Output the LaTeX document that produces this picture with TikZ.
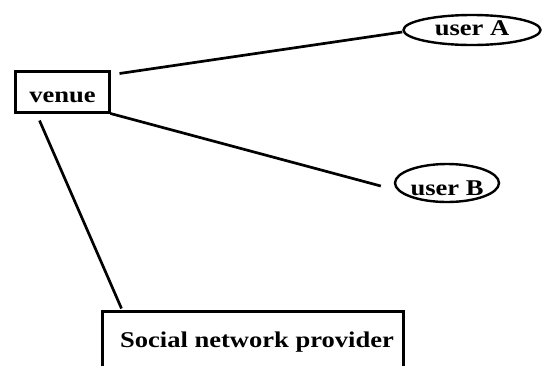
\documentclass[tikz,border=0pt]{standalone}
\usepackage{fontspec}
\setmainfont{Liberation Serif}[FakeStretch=1.18]
\usetikzlibrary{shapes.geometric,calc}
\begin{document}
\begin{tikzpicture}[x=1bp,y=-1bp,
  lbl/.style={font=\fontsize{22.5bp}{26bp}\selectfont\bfseries, text=black},
  boxnode/.style={draw, rectangle, line width=3bp, inner sep=0pt, lbl},
  usernode/.style={draw, ellipse, line width=2.4bp, inner sep=0pt, lbl},
  conn/.style={line width=2.7bp}]
\useasboundingbox (0,0) rectangle (543,365);
\node[boxnode, minimum width=93bp, minimum height=41bp] (venue) at (62.5,91.5) {\raisebox{-10.5bp}[0pt][0pt]{venue}};
\node[usernode, minimum width=137bp, minimum height=30bp] (userA) at (472,30) {\raisebox{-5bp}[0pt][0pt]{user A}};
\node[usernode, minimum width=104bp, minimum height=38bp] (userB) at (447,183) {\raisebox{-12bp}[0pt][0pt]{user B}};
\node[boxnode, minimum width=301bp, minimum height=69bp] (social) at (252.5,345.5) {\hspace*{9bp}\raisebox{-1.5bp}[0pt][0pt]{Social network provider}};
\draw[conn] ($(venue.north east)+(9,4)$) -- ($(userA.west)+(0,2)$);
\draw[conn] (venue.south east) -- ($(userB.west)+(-13,3)$);
\draw[conn] ($(venue.south west)+(25,7)$) -- ($(social.north west)+(21,-1)$);
\end{tikzpicture}
\end{document}
